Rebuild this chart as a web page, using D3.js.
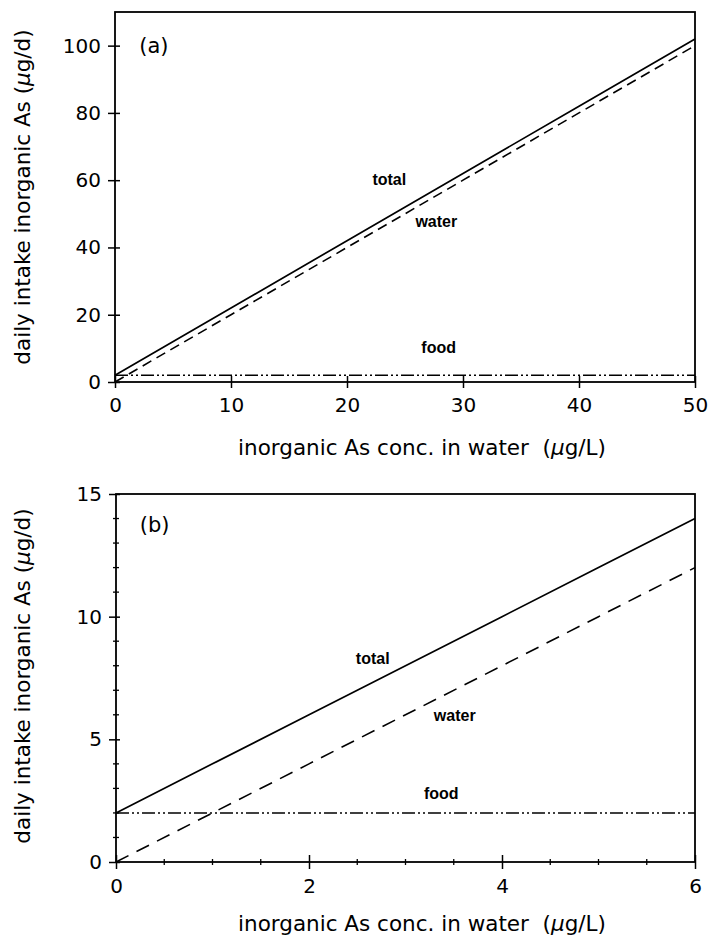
<!DOCTYPE html>
<html>
<head>
<meta charset="utf-8">
<script src="https://cdn.jsdelivr.net/npm/d3@7"></script>
<style>
  html, body { margin: 0; padding: 0; background: #fff; }
  svg { display: block; }
  text { fill: #000; font-family: "DejaVu Sans", sans-serif; }
</style>
</head>
<body>
<svg id="chart" width="711" height="937"></svg>
<script>
// ---- Data ----
const xA = [0, 10, 20, 30, 40, 50];
const totalA = [2, 22, 42, 62, 82, 102];
const waterA = [0, 20, 40, 60, 80, 100];
const foodA = [2, 2, 2, 2, 2, 2];
const xTicksA = [0, 10, 20, 30, 40, 50];
const yTicksA = [0, 20, 40, 60, 80, 100];

const xB = [0, 1, 2, 3, 4, 5, 6];
const totalB = [2, 4, 6, 8, 10, 12, 14];
const waterB = [0, 2, 4, 6, 8, 10, 12];
const foodB = [2, 2, 2, 2, 2, 2, 2];
const xTicksB = [0, 2, 4, 6];
const xMinorB = [0.5, 1, 1.5, 2.5, 3, 3.5, 4.5, 5, 5.5];
const yTicksB = [0, 5, 10, 15];
const yMinorB = [1, 2, 3, 4, 6, 7, 8, 9, 11, 12, 13, 14];

const xTitleParts = ["inorganic As conc. in water  (", "\u03BC", "g/L)"];
const yTitleParts = ["daily intake inorganic As (", "\u03BC", "g/d)"];

const svg = d3.select("#chart");

function addTitle(sel, parts) {
  sel.append("tspan").text(parts[0]);
  sel.append("tspan").text(parts[1]).style("font-style", "italic");
  sel.append("tspan").text(parts[2]);
}

function panel(cfg) {
  const x = d3.scaleLinear().domain(cfg.xDomain).range([cfg.left, cfg.right]);
  const y = d3.scaleLinear().domain(cfg.yDomain).range([cfg.bottom, cfg.top]);
  const g = svg.append("g");

  // minor ticks
  if (cfg.xMinor) {
    g.selectAll(".xminor").data(cfg.xMinor).join("line")
      .attr("x1", d => x(d)).attr("x2", d => x(d))
      .attr("y1", cfg.bottom - 3).attr("y2", cfg.bottom + 3)
      .attr("stroke", "#000").attr("stroke-width", 1.3);
  }
  if (cfg.yMinor) {
    g.selectAll(".yminor").data(cfg.yMinor).join("line")
      .attr("y1", d => y(d)).attr("y2", d => y(d))
      .attr("x1", cfg.left - 3).attr("x2", cfg.left + 3)
      .attr("stroke", "#000").attr("stroke-width", 1.3);
  }

  // x axis
  const gx = g.append("g").attr("transform", `translate(0,${cfg.bottom})`)
    .call(d3.axisBottom(x).tickValues(cfg.xTicks).tickSize(cfg.xTickOut).tickPadding(10).tickFormat(d3.format("d")));
  gx.select(".domain").remove();
  gx.selectAll(".tick line").attr("y1", -cfg.xTickIn).attr("stroke-width", 1.5);
  gx.selectAll(".tick text").style("font-size", "20px").style("font-family", "DejaVu Sans");

  // y axis
  const gy = g.append("g").attr("transform", `translate(${cfg.left},0)`)
    .call(d3.axisLeft(y).tickValues(cfg.yTicks).tickSize(cfg.yTickOut).tickPadding(7).tickFormat(d3.format("d")));
  gy.select(".domain").remove();
  gy.selectAll(".tick line").attr("x1", cfg.yTickIn).attr("stroke-width", 1.5);
  gy.selectAll(".tick text").style("font-size", "20px").style("font-family", "DejaVu Sans");

  // frame
  g.append("rect")
    .attr("x", cfg.left).attr("y", cfg.top)
    .attr("width", cfg.right - cfg.left).attr("height", cfg.bottom - cfg.top)
    .attr("fill", "none").attr("stroke", "#000").attr("stroke-width", 1.8);

  const line = (ys) => d3.line().x((d, i) => x(cfg.xs[i])).y(d => y(d))(ys);

  g.append("path").attr("d", line(cfg.food))
    .attr("fill", "none").attr("stroke", "#000").attr("stroke-width", 1.4)
    .attr("stroke-dasharray", "13,3,2,3,2,3");
  g.append("path").attr("d", line(cfg.water))
    .attr("fill", "none").attr("stroke", "#000").attr("stroke-width", 1.6)
    .attr("stroke-dasharray", cfg.waterDash);
  g.append("path").attr("d", line(cfg.total))
    .attr("fill", "none").attr("stroke", "#000").attr("stroke-width", 1.7);

  // curve labels
  cfg.labels.forEach(l => {
    g.append("text").text(l.t)
      .attr("x", x(l.x)).attr("y", y(l.y))
      .attr("text-anchor", "middle").attr("dominant-baseline", "central")
      .style("font-family", "Liberation Sans, Arial, sans-serif")
      .style("font-weight", "bold").style("font-size", "16px");
  });

  // panel letter
  g.append("text").text(cfg.letter.t)
    .attr("x", x(cfg.letter.x)).attr("y", y(cfg.letter.y))
    .attr("text-anchor", "middle").attr("dominant-baseline", "central")
    .style("font-size", "21px");

  // axis titles
  const xt = g.append("text")
    .attr("x", 422).attr("y", cfg.xTitleY)
    .attr("text-anchor", "middle").attr("dominant-baseline", "central")
    .style("font-size", "21.5px").style("white-space", "pre");
  addTitle(xt, xTitleParts);
  const yt = g.append("text")
    .attr("transform", `translate(22,${cfg.yTitleY}) rotate(-90)`)
    .attr("text-anchor", "middle").attr("dominant-baseline", "central")
    .style("font-size", "21.5px").style("white-space", "pre");
  addTitle(yt, yTitleParts);
}

panel({
  left: 115, right: 695, top: 12, bottom: 382,
  xDomain: [0, 50], yDomain: [0, 110],
  xTicks: xTicksA, yTicks: yTicksA,
  xTickOut: 6, xTickIn: 6, yTickOut: 7, yTickIn: 5,
  xs: xA, total: totalA, water: waterA, food: foodA,
  waterDash: "10,6",
  labels: [
    { t: "total", x: 23.65, y: 60.2 },
    { t: "water", x: 27.7, y: 47.8 },
    { t: "food", x: 27.9, y: 10.2 }
  ],
  letter: { t: "(a)", x: 3.35, y: 100 },
  xTitleY: 446.5, yTitleY: 197
});

panel({
  left: 116, right: 695, top: 494, bottom: 862,
  xDomain: [0, 6], yDomain: [0, 15],
  xTicks: xTicksB, yTicks: yTicksB, xMinor: xMinorB, yMinor: yMinorB,
  xTickOut: 7, xTickIn: 7, yTickOut: 7, yTickIn: 4,
  xs: xB, total: totalB, water: waterB, food: foodB,
  waterDash: "14,9",
  labels: [
    { t: "total", x: 2.66, y: 8.28 },
    { t: "water", x: 3.51, y: 5.99 },
    { t: "food", x: 3.37, y: 2.81 }
  ],
  letter: { t: "(b)", x: 0.40, y: 13.74 },
  xTitleY: 923, yTitleY: 676
});
</script>
</body>
</html>
